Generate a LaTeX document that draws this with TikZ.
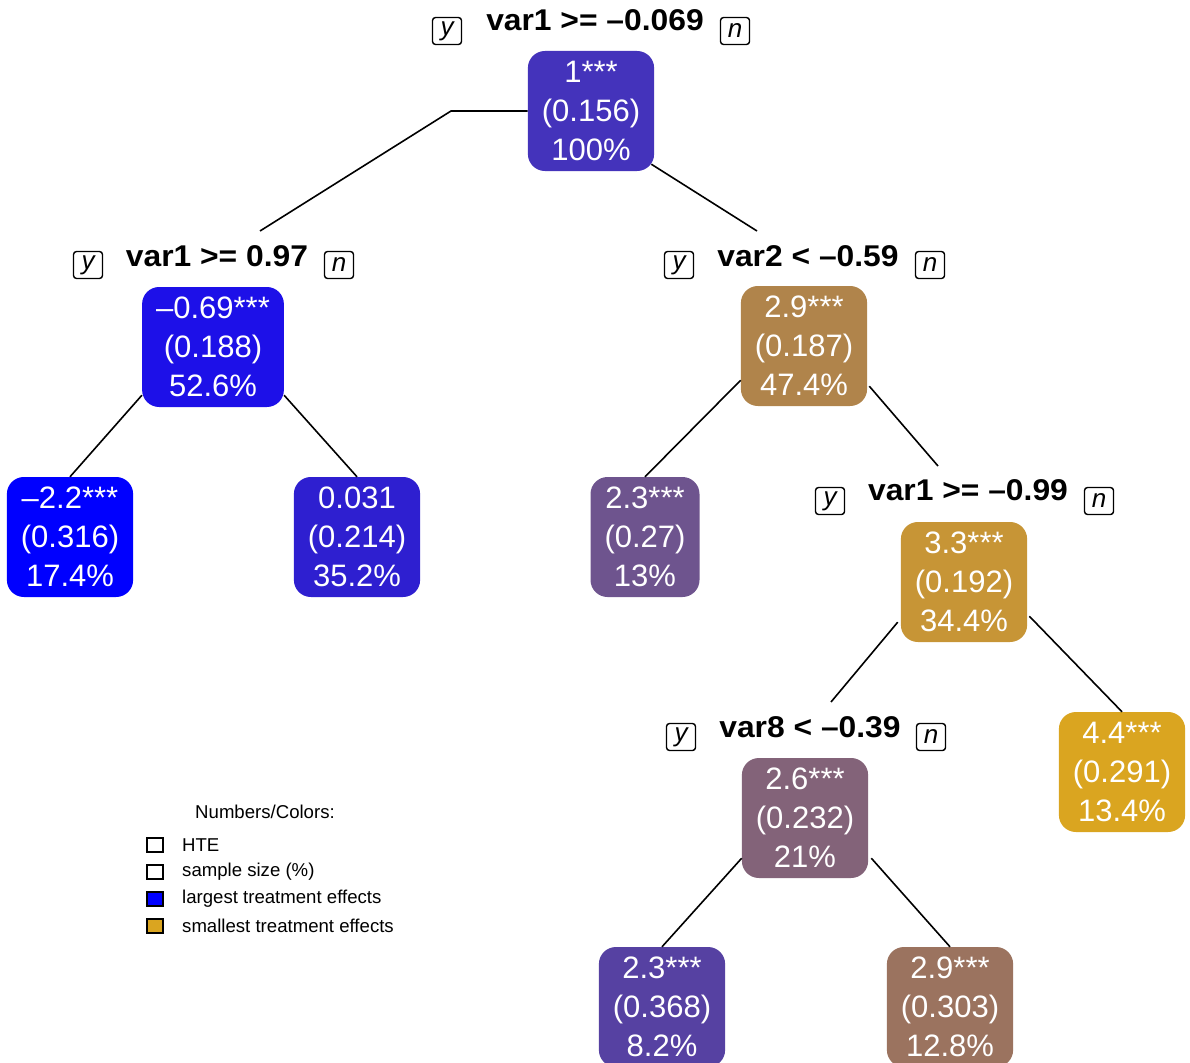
\documentclass[tikz,border=0pt]{standalone}
\usepackage{fontspec}
\setmainfont{Liberation Sans}
\usetikzlibrary{calc}

\definecolor{cRoot}{HTML}{4433BB}
\definecolor{cLa}{HTML}{1D10E8}
\definecolor{cLL}{HTML}{0000FF}
\definecolor{cLR}{HTML}{2E1FD0}
\definecolor{cRa}{HTML}{B0844B}
\definecolor{cRL}{HTML}{6E548E}
\definecolor{cRR}{HTML}{C79536}
\definecolor{cRRR}{HTML}{DAA520}
\definecolor{cRRL}{HTML}{836379}
\definecolor{cRRLL}{HTML}{5641A2}
\definecolor{cRRLR}{HTML}{9B735F}

\begin{document}
\begin{tikzpicture}[
            x=1pt, y=-1pt,
            box/.style={rounded corners=17pt, minimum height=120pt, inner xsep=14pt, inner ysep=0pt,
                text=white, align=center, font=\fontsize{31}{39}\selectfont},
            cond/.style={inner sep=0pt, font=\bfseries\fontsize{30}{30}\selectfont\addfontfeature{FakeStretch=1.06}},
            yn/.style={draw, rounded corners=3pt, line width=1.4pt, minimum width=29pt, minimum height=27pt,
                inner sep=0pt, font=\itshape\fontsize{26}{26}\selectfont},
            edge/.style={line width=1.6pt},
            key/.style={draw, line width=2pt, minimum width=16pt, minimum height=14pt, inner sep=0pt},
            keytext/.style={anchor=west, inner sep=0pt, font=\fontsize{18.6}{18.6}\selectfont}
        ]
            \useasboundingbox (0,0) rectangle (1190,1062);

            % 根节点
            \node[box, fill=cRoot] (root) at (591,111) {1***\\(0.156)\\100\%};
            \node[cond] (t0) at (595,20) {var1 >= –0.069};
            \node[yn] (y0) at (447,31) {y};
            \node[yn] (n0) at (735,31) {n};

            % 第二层
            \node[box, fill=cLa] (la) at (213,347) {–0.69***\\(0.188)\\52.6\%};
            \node[cond] (t1) at (217,256) {var1 >= 0.97};
            \node[yn] (y1) at (88,265) {y};
            \node[yn] (n1) at (339,265) {n};

            \node[box, fill=cRa] (ra) at (804,346) {2.9***\\(0.187)\\47.4\%};
            \node[cond] (t2) at (808,256) {var2 < –0.59};
            \node[yn] (y2) at (679,265) {y};
            \node[yn] (n2) at (930,265) {n};

            % 第三层
            \node[box, fill=cLL] (ll) at (70,537) {–2.2***\\(0.316)\\17.4\%};
            \node[box, fill=cLR] (lr) at (357,537) {0.031\\(0.214)\\35.2\%};
            \node[box, fill=cRL] (rl) at (645,537) {2.3***\\(0.27)\\13\%};

            \node[box, fill=cRR] (rr) at (964,582) {3.3***\\(0.192)\\34.4\%};
            \node[cond] (t3) at (968,490) {var1 >= –0.99};
            \node[yn] (y3) at (830,501) {y};
            \node[yn] (n3) at (1099,501) {n};

            % 第四层
            \node[box, fill=cRRR] (rrr) at (1122,772) {4.4***\\(0.291)\\13.4\%};
            \node[box, fill=cRRL] (rrl) at (805,818) {2.6***\\(0.232)\\21\%};
            \node[cond] (t4) at (810,727) {var8 < –0.39};
            \node[yn] (y4) at (681,737) {y};
            \node[yn] (n4) at (931,737) {n};

            % 第五层
            \node[box, fill=cRRLL] (rrll) at (662,1007) {2.3***\\(0.368)\\8.2\%};
            \node[box, fill=cRRLR] (rrlr) at (950,1007) {2.9***\\(0.303)\\12.8\%};

            % 连线
            \coordinate (k0) at (451,111);
            \coordinate (e1) at (260,231);
            \coordinate (e2) at (757,231);
            \coordinate (e3) at (938,466);
            \coordinate (e4) at (831,702);
            \draw[edge] (root.west) -- (k0) -- (e1);
            \draw[edge] ([xshift=-3pt,yshift=7pt]root.south east) -- (e2);
            \draw[edge] ([yshift=12pt]la.south west) -- (ll.north);
            \draw[edge] ([yshift=12pt]la.south east) -- (lr.north);
            \draw[edge] ([yshift=26pt]ra.south west) -- (rl.north);
            \draw[edge] ([xshift=2pt,yshift=20pt]ra.south east) -- (e3);
            \draw[edge] ([xshift=-3pt,yshift=20pt]rr.south west) -- (e4);
            \draw[edge] ([xshift=2pt,yshift=26pt]rr.south east) -- (rrr.north);
            \draw[edge] ([yshift=20pt]rrl.south west) -- (rrll.north);
            \draw[edge] ([xshift=3pt,yshift=20pt]rrl.south east) -- (rrlr.north);

            % 图例
            \node[inner sep=0pt, font=\fontsize{18.6}{18.6}\selectfont] (lgd) at (265,812) {Numbers/Colors:};
            \node[key, fill=white] (k1) at (155,845) {};
            \node[key, fill=white] (k2) at (155,872) {};
            \node[key, fill=cLL] (k3) at (155,899) {};
            \node[key, fill=cRRR] (k4) at (155,926) {};
            \node[keytext] at (182,845) {HTE};
            \node[keytext] at (182,872) {sample size (\%)};
            \node[keytext] at (182,899) {largest treatment effects};
            \node[keytext] at (182,926) {smallest treatment effects};

        \end{tikzpicture}
\end{document}
